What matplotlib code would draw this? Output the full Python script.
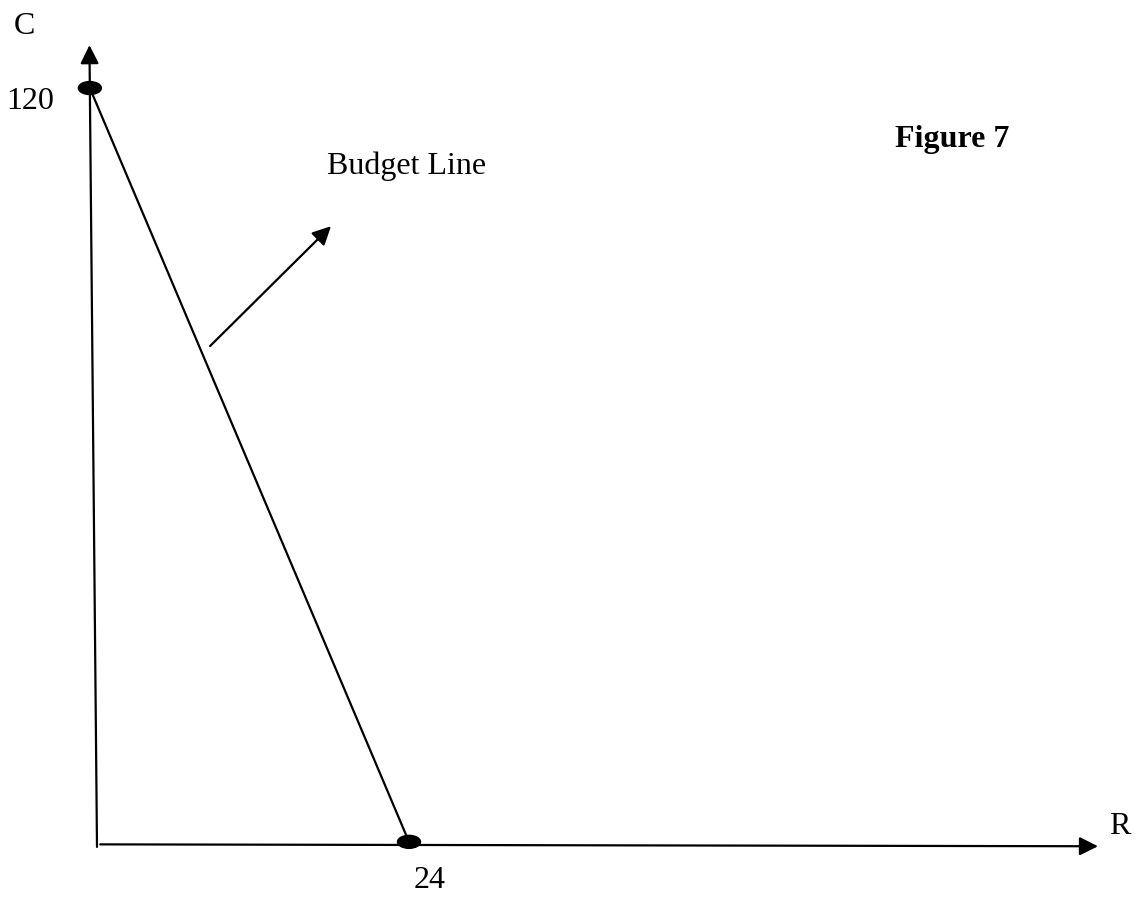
import matplotlib.pyplot as plt
from matplotlib.patches import Ellipse

plt.rcParams['font.family'] = ['Liberation Serif', 'DejaVu Serif']

# %% data: budget line intercepts
c_max = 120   # C intercept (R = 0)
r_max = 24    # R intercept (C = 0)
budget_r = [0, r_max]
budget_c = [c_max, 0]
lean = -0.55  # hand drawn C axis leans a little to the left at the top

# axis arrow ends
r_axis_end = 77
c_axis_end = 126.8

# %% figure
fig = plt.figure(figsize=(11.38, 8.99), dpi=100)
ax = fig.add_axes([0, 0, 1, 1])
ax.set_xlim(-97 / 13, (1138 - 97) / 13)
ax.set_ylim(-54 / 6.308, 845 / 6.308)
ax.axis('off')

arrow_kw = dict(arrowstyle='-|>', mutation_scale=28, lw=1.6, color='black',
                shrinkA=0, shrinkB=0)

# axes as arrows
ax.annotate('', xy=(r_axis_end, -0.2), xytext=(0.25, 0.1), arrowprops=arrow_kw)
ax.annotate('', xy=(lean * c_axis_end / c_max, c_axis_end), xytext=(0, -0.3),
            arrowprops=arrow_kw)

# budget line
ax.plot([budget_r[0] + lean, budget_r[1]], [budget_c[0], budget_c[1] + 0.5],
        color='black', lw=1.6)

# intercept dots
for r, c in [(budget_r[0] + lean, budget_c[0]), (budget_r[1], budget_c[1] + 0.5)]:
    ax.add_patch(Ellipse((r, c), width=23 / 13, height=13 / 6.308,
                         color='black'))

# label arrow
ax.annotate('', xy=(18.0, 98.1), xytext=(8.7, 79.1), arrowprops=arrow_kw)

# %% text
fs = 23
ax.text(-5.6, 129.7, 'C', fontsize=fs, ha='center', va='center')
ax.text(-5.15, 117.9, str(c_max), fontsize=fs, ha='center', va='center')
ax.text(78.7, 3.0, 'R', fontsize=fs, ha='center', va='center')
ax.text(25.6, -5.7, str(r_max), fontsize=fs, ha='center', va='center')
ax.text(17.7, 106.3, 'Budget Line', fontsize=fs, ha='left', va='baseline')
ax.text(61.4, 110.6, 'Figure 7', fontsize=fs, fontweight='bold',
        ha='left', va='baseline')

fig.savefig('out.png', dpi=100, facecolor='white')
